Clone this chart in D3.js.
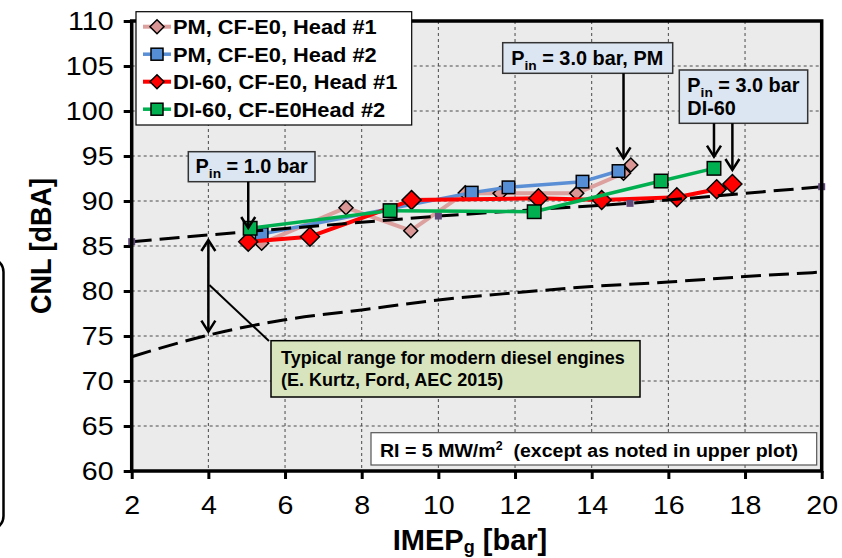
<!DOCTYPE html>
<html>
<head>
<meta charset="utf-8">
<script src="https://cdn.jsdelivr.net/npm/d3@7"></script>
<style>
  body { margin: 0; background: #fff; }
  svg { display: block; }
  text { font-family: "Liberation Sans", Arial, sans-serif; white-space: pre; }
</style>
</head>
<body>
<svg id="chart" width="842" height="558"></svg>
<script>
// Axis ticks
const xTicks = [2, 4, 6, 8, 10, 12, 14, 16, 18, 20];
const yTicks = [60, 65, 70, 75, 80, 85, 90, 95, 100, 105, 110];

// Measured combustion noise level vs. gross IMEP
const seriesNames = ["PM, CF-E0, Head #1", "PM, CF-E0, Head #2", "DI-60, CF-E0, Head #1", "DI-60, CF-E0Head #2"];
const pmHead1X = [5.39, 7.59, 9.28, 10.70, 11.61, 13.61, 14.83, 15.02];
const pmHead1Y = [85.30, 89.26, 86.70, 90.90, 90.85, 90.85, 93.08, 94.00];
const pmHead2X = [5.39, 10.87, 11.83, 13.76, 14.70];
const pmHead2Y = [86.33, 90.93, 91.52, 92.15, 93.33];
const di60Head1X = [5.04, 6.65, 9.30, 12.61, 14.26, 16.22, 17.26, 17.67];
const di60Head1Y = [85.48, 86.03, 90.11, 90.30, 90.11, 90.41, 91.30, 91.89];
const di60Head2X = [5.09, 8.74, 12.50, 15.81, 17.19];
const di60Head2Y = [86.97, 88.93, 88.81, 92.22, 93.63];

// Typical range for modern diesel engines (upper and lower bounds)
const rangeUpperX = [2, 5, 10, 15, 20];
const rangeUpperY = [85.48, 86.59, 88.33, 89.74, 91.59];
const rangeLowerX = [2, 4, 6, 8, 10, 12, 14, 16, 18, 20];
const rangeLowerY = [72.7, 75.1, 76.8, 77.9, 79.0, 79.8, 80.5, 81.0, 81.6, 82.1];

const svg = d3.select("#chart");
const plot = { left: 131.7, right: 821.7, top: 21, bottom: 471 };
const x = d3.scaleLinear().domain([2, 20]).range([plot.left, plot.right]);
const y = d3.scaleLinear().domain([60, 110]).range([plot.bottom, plot.top]);

// Text helper: bold labels with an optional horizontal stretch
function label(parent, tx, ty, size, opts) {
  opts = opts || {};
  const sx = opts.sx || 1;
  return parent.append("text")
    .attr("transform", `translate(${tx},${ty}) scale(${sx},1)`)
    .attr("font-size", size)
    .attr("font-weight", opts.bold === false ? "normal" : "bold")
    .attr("text-anchor", opts.anchor || "start")
    .attr("fill", "#000");
}

// Stray frame edge at the far left
svg.append("rect")
  .attr("x", -40).attr("y", 258).attr("width", 43.5).attr("height", 272)
  .attr("rx", 14).attr("fill", "none").attr("stroke", "#000").attr("stroke-width", 2.5);

// Plot background
svg.append("rect")
  .attr("x", plot.left).attr("y", plot.top)
  .attr("width", plot.right - plot.left).attr("height", plot.bottom - plot.top)
  .attr("fill", "#ebebeb");

// Grid
const grid = svg.append("g").attr("stroke", "#4a4a4a").attr("stroke-width", 1).attr("stroke-dasharray", "3,3");
grid.selectAll(".gx").data(xTicks.slice(1, -1)).join("line")
  .attr("x1", d => x(d)).attr("x2", d => x(d)).attr("y1", plot.top).attr("y2", plot.bottom);
grid.selectAll(".gy").data(yTicks.slice(1, -1)).join("line")
  .attr("y1", d => y(d)).attr("y2", d => y(d)).attr("x1", plot.left).attr("x2", plot.right);

// Axes
const tickSX = 1.1;
const yAxis = svg.append("g").attr("transform", `translate(${plot.left},0)`)
  .call(d3.axisLeft(y).tickValues(yTicks).tickSize(8).tickPadding(8.5));
const xAxis = svg.append("g").attr("transform", `translate(0,${plot.bottom})`)
  .call(d3.axisBottom(x).tickValues(xTicks).tickSize(8).tickPadding(17));
[xAxis, yAxis].forEach(a => {
  a.select(".domain").remove();
  a.selectAll(".tick line").attr("stroke", "#000").attr("stroke-width", 3);
  a.selectAll(".tick text").attr("font-size", 26).attr("fill", "#000")
    .attr("transform", `scale(${tickSX},1)`);
});

// Axis titles
svg.append("text")
  .attr("transform", `translate(51,${(plot.top + plot.bottom) / 2}) scale(1.12,1) rotate(-90)`)
  .attr("text-anchor", "middle").attr("font-size", 27).attr("font-weight", "bold")
  .text("CNL [dBA]");
const xt = svg.append("text")
  .attr("x", 470).attr("y", 550).attr("text-anchor", "middle")
  .attr("font-size", 29).attr("font-weight", "bold");
xt.append("tspan").text("IMEP");
xt.append("tspan").attr("font-size", 18).attr("dy", 3).text("g");
xt.append("tspan").attr("dy", -3).text(" [bar]");

// Line generator
const line = d3.line().x(d => x(d[0])).y(d => y(d[1]));
const zip = (xs, ys) => xs.map((v, i) => [v, ys[i]]);

// Marker drawing
function drawMarker(g, shape, cx, cy, size, fill) {
  if (shape === "diamond") {
    const h = size / 2;
    g.append("path")
      .attr("d", `M${cx},${cy - h}L${cx + h},${cy}L${cx},${cy + h}L${cx - h},${cy}Z`)
      .attr("fill", fill).attr("stroke", "#000").attr("stroke-width", 1.5);
  } else {
    g.append("rect")
      .attr("x", cx - size / 2).attr("y", cy - size / 2)
      .attr("width", size).attr("height", size)
      .attr("fill", fill).attr("stroke", "#000").attr("stroke-width", 1.5);
  }
}

const series = [
  { name: seriesNames[0], pts: zip(pmHead1X, pmHead1Y), line: "#dca09e", fill: "#d99694", shape: "diamond", size: 14, width: 4 },
  { name: seriesNames[1], pts: zip(pmHead2X, pmHead2Y), line: "#5a8fd6", fill: "#558ed5", shape: "square", size: 12.5, width: 3.5 },
  { name: seriesNames[2], pts: zip(di60Head1X, di60Head1Y), line: "#ff0000", fill: "#ff0000", shape: "diamond", size: 19, width: 4 },
  { name: seriesNames[3], pts: zip(di60Head2X, di60Head2Y), line: "#00b050", fill: "#00b050", shape: "square", size: 13.5, width: 3.5 }
];

function drawSeries(s) {
  const g = svg.append("g");
  g.append("path").datum(s.pts).attr("d", line)
    .attr("fill", "none").attr("stroke", s.line).attr("stroke-width", s.width)
    .attr("stroke-linejoin", "round");
  s.pts.forEach(p => drawMarker(g, s.shape, x(p[0]), y(p[1]), s.size, s.fill));
}

function drawRangeLines() {
  const g = svg.append("g");
  const curve = d3.line().x(d => x(d[0])).y(d => y(d[1])).curve(d3.curveMonotoneX);
  g.append("path").datum(zip(rangeLowerX, rangeLowerY)).attr("d", curve)
    .attr("fill", "none").attr("stroke", "#000").attr("stroke-width", 3).attr("stroke-dasharray", "20,8");
  g.append("path").datum(zip(rangeUpperX, rangeUpperY)).attr("d", line)
    .attr("fill", "none").attr("stroke", "#000").attr("stroke-width", 3).attr("stroke-dasharray", "20,8");
  g.selectAll("rect").data(zip(rangeUpperX, rangeUpperY)).join("rect")
    .attr("x", d => x(d[0]) - 3.5).attr("y", d => y(d[1]) - 3.5)
    .attr("width", 7).attr("height", 7).attr("fill", "#604a7b");
}

drawSeries(series[0]);
drawSeries(series[1]);
drawSeries(series[2]);
drawRangeLines();
drawSeries(series[3]);

// Plot frame
svg.append("rect")
  .attr("x", plot.left).attr("y", plot.top)
  .attr("width", plot.right - plot.left).attr("height", plot.bottom - plot.top)
  .attr("fill", "none").attr("stroke", "#000").attr("stroke-width", 3.5);

// Arrows
function arrow(x0, y0, y1, both) {
  const g = svg.append("g").attr("stroke", "#000").attr("stroke-width", 2.5).attr("fill", "none");
  g.append("line").attr("x1", x0).attr("x2", x0).attr("y1", y0).attr("y2", y1);
  const dir = y1 > y0 ? 1 : -1;
  g.append("path").attr("d", `M${x0 - 7},${y1 - dir * 11}L${x0},${y1}L${x0 + 7},${y1 - dir * 11}`);
  if (both) g.append("path").attr("d", `M${x0 - 7},${y0 + dir * 11}L${x0},${y0}L${x0 + 7},${y0 + dir * 11}`);
}

// Boost pressure callouts
function pinLabel(px, py, rest, anchor) {
  const el = label(svg, px, py, 19.5, { anchor: anchor || "middle", sx: 1.02 });
  el.append("tspan").text("P");
  el.append("tspan").attr("font-size", 13.5).attr("dy", 5).text("in");
  el.append("tspan").attr("dy", -5).text(rest);
  return el;
}
function box(bx, by, bw, bh, fill, stroke, sw) {
  svg.append("rect").attr("x", bx).attr("y", by).attr("width", bw).attr("height", bh)
    .attr("fill", fill).attr("stroke", stroke).attr("stroke-width", sw);
}

box(188.3, 151.7, 126.7, 30, "#dce6f2", "#333", 1.5);
pinLabel(251.7, 173.3, " = 1.0 bar");
arrow(x(di60Head1X[0]), 181.7, 228);

box(502.7, 42.7, 170, 30.6, "#dce6f2", "#333", 1.5);
pinLabel(587.2, 65, " = 3.0 bar, PM");
arrow(x(pmHead1X[6]), 73.3, 158.3);

box(679.3, 70, 128.4, 53.3, "#dce6f2", "#333", 1.5);
pinLabel(687.3, 91.7, " = 3.0 bar", "start");
label(svg, 687.3, 115, 19.5, { sx: 1.02 }).text("DI-60");
arrow(x(di60Head2X[4]), 123.3, 156.7);
arrow(x(di60Head1X[7]), 123.3, 170);

// Typical range indicator
arrow(x(4), 240, 331.7, true);
svg.append("line").attr("x1", x(4) + 1).attr("y1", 285).attr("x2", 269).attr("y2", 341)
  .attr("stroke", "#000").attr("stroke-width", 2);
box(271, 340.7, 369, 56.3, "#d7e4bd", "#000", 1.5);
label(svg, 281, 363.5, 18).text("Typical range for modern diesel engines");
label(svg, 281, 385.5, 18).text("(E. Kurtz, Ford, AEC 2015)");

// Ringing intensity note
box(371, 432.7, 445.7, 32.3, "#fff", "#555", 1.2);
const ri = label(svg, 380, 456.5, 19, { sx: 1.03 });
ri.append("tspan").text("RI = 5 MW/m");
ri.append("tspan").attr("font-size", 12).attr("dy", -7).text("2");
ri.append("tspan").attr("dy", 7).text("  (except as noted in upper plot)");

// Legend
const lg = svg.append("g");
lg.append("rect").attr("x", 136).attr("y", 11.7).attr("width", 275.7).attr("height", 113.3)
  .attr("fill", "#fff").attr("stroke", "#000").attr("stroke-width", 1.2);
series.forEach((s, i) => {
  const cy = 26.7 + i * 27.5;
  lg.append("line").attr("x1", 143).attr("x2", 171).attr("y1", cy).attr("y2", cy)
    .attr("stroke", s.line).attr("stroke-width", s.width);
  drawMarker(lg, s.shape, 157, cy, s.shape === "diamond" ? 14 : 12, s.fill);
  label(lg, 173, cy + 7.5, 21, { sx: 1.04 }).text(s.name);
});
</script>
</body>
</html>
